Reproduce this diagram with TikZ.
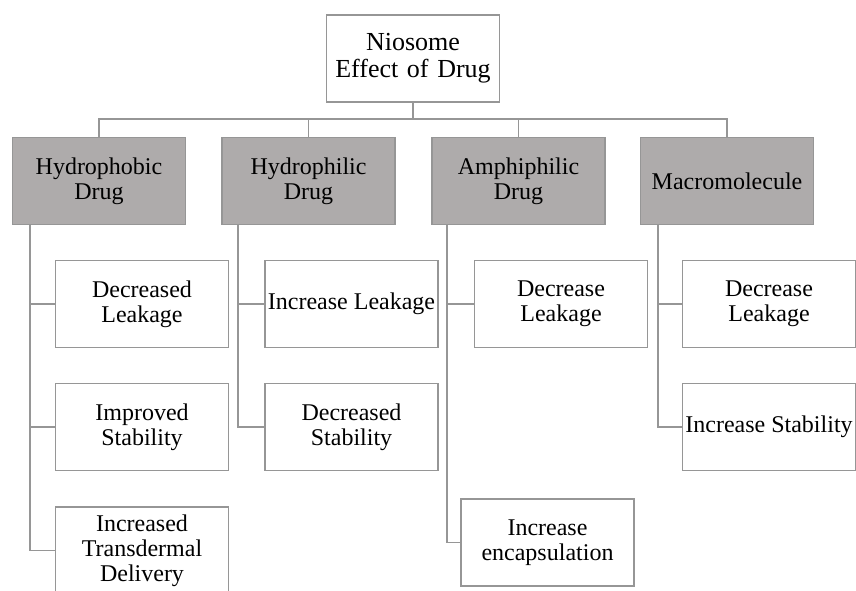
\documentclass[tikz,border=0pt]{standalone}
\usepackage{fontspec}
\setmainfont{Liberation Serif}
\usetikzlibrary{positioning,calc}
\definecolor{drugfill}{HTML}{AEABAB}
\definecolor{edge}{HTML}{969696}
\tikzset{
  tbox/.style={draw=edge,fill=white,line width=1.8pt,align=center,inner sep=2pt,text width=169pt,minimum height=87pt},
  wbox/.style={tbox,text width={},minimum width=173pt,inner sep=0pt},
  dbox/.style={tbox,fill=drugfill},
  vline/.style={line width=1.8pt,draw=edge}
}
\begin{document}
\begin{tikzpicture}[x=1pt,y=-1pt,font=\fontsize{24}{25}\selectfont]
  \useasboundingbox (0,0) rectangle (856,590);
  % root
  \node[tbox,font=\fontsize{26}{27}\selectfont] (root) at (413,58.5) {Niosome\\ Effect of Drug};
  % drug types
  \node[dbox] (d1) at (99,181) {Hydrophobic\\ Drug};
  \node[dbox] (d2) at (308.5,181) {Hydrophilic\\ Drug};
  \node[dbox] (d3) at (518.5,181) {Amphiphilic\\ Drug};
  \node[dbox] (d4) at (727,181) {Macromolecule};
  % effects
  \node[tbox] (e11) at (142,304) {Decreased\\ Leakage};
  \node[tbox] (e12) at (142,427) {Improved\\ Stability};
  \node[tbox] (e13) at (142,550.5) {Increased\\ Transdermal\\ Delivery};
  \node[wbox] (e21) at (351.5,304) {Increase Leakage};
  \node[tbox] (e22) at (351.5,427) {Decreased\\ Stability};
  \node[tbox] (e31) at (561,304) {Decrease\\ Leakage};
  \node[tbox] (e32) at (547.5,542.5) {Increase\\ encapsulation};
  \node[tbox] (e41) at (769,304) {Decrease\\ Leakage};
  \node[wbox] (e42) at (769,427) {Increase Stability};
  % connectors
  \coordinate (bus) at (413,119);
  \draw[vline] (root.south) -- (bus);
  \draw[vline] (bus) -| (d1.north); \draw[vline] (bus) -| (d2.north);
  \draw[vline] (bus) -| (d3.north); \draw[vline] (bus) -| (d4.north);
  \coordinate (t1) at ([xshift=18pt]d1.south west);
  \coordinate (t2) at ([xshift=17pt]d2.south west);
  \coordinate (t3) at ([xshift=16pt]d3.south west);
  \coordinate (t4) at ([xshift=18pt]d4.south west);
  \draw[vline] (t1) |- (e11.west); \draw[vline] (t1) |- (e12.west); \draw[vline] (t1) |- (e13.west);
  \draw[vline] (t2) |- (e21.west); \draw[vline] (t2) |- (e22.west);
  \draw[vline] (t3) |- (e31.west); \draw[vline] (t3) |- (e32.west);
  \draw[vline] (t4) |- (e41.west); \draw[vline] (t4) |- (e42.west);
\end{tikzpicture}
\end{document}
